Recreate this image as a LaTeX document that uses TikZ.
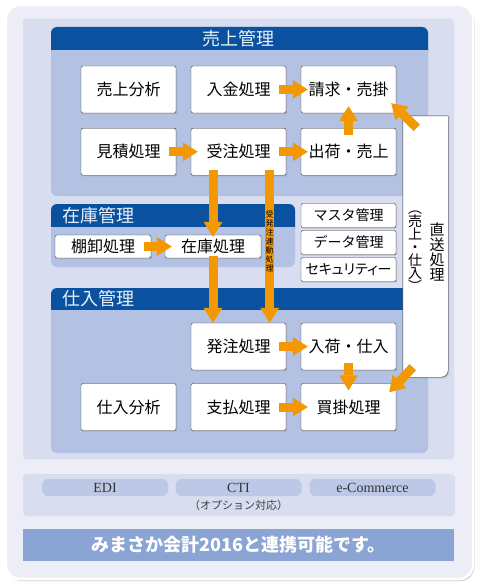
\documentclass[tikz,border=0pt]{standalone}
\usepackage{fontspec}
\setmainfont{Noto Sans CJK JP}
\newfontfamily\latinserif{Liberation Serif}
\usetikzlibrary{arrows.meta,shadows}

\definecolor{hdrblue}{HTML}{0A52A0}
\definecolor{panelblue}{HTML}{B3C1E2}
\definecolor{areablue}{HTML}{D8DDEF}
\definecolor{framebg}{HTML}{ECEDF7}
\definecolor{pillblue}{HTML}{BDC8E7}
\definecolor{bannerblue}{HTML}{8AA5D4}
\definecolor{flowor}{HTML}{F39800}
\definecolor{boxline}{HTML}{3A3A3A}

\tikzset{
  task/.style={draw=boxline, fill=white, rounded corners=2pt, minimum width=95pt,
    minimum height=47pt, inner sep=0pt, font=\fontsize{16}{16}\selectfont,
    drop shadow={shadow xshift=1.2pt, shadow yshift=-1.2pt, opacity=0.3}},
  smalltask/.style={task, minimum height=23pt},
  infotask/.style={task, minimum height=24pt, font=\fontsize{14}{14}\selectfont},
  flow/.style={draw=flowor, line width=9pt,
    -{Triangle[length=15pt, width=19pt, line width=0pt]},
    shorten <=-7pt, shorten >=-7pt},
  hdr/.style={text=white!92!hdrblue, font=\fontsize{18}{18}\selectfont, inner sep=0pt},
  pill/.style={fill=pillblue, rounded corners=6pt, minimum width=126pt, minimum height=17pt,
    inner sep=0pt, font=\latinserif\fontsize{14}{14}\selectfont, text=black!80},
}

\begin{document}
\begin{tikzpicture}[x=1pt, y=-1pt]
  \useasboundingbox[fill=white] (0,0) rectangle (481,586);
  % frame and areas
  \draw[draw=white, line width=2.5pt, fill=framebg, rounded corners=14pt,
    drop shadow={shadow xshift=1.5pt, shadow yshift=-2pt, opacity=0.35}] (6,5) rectangle (473,579);
  \fill[areablue, rounded corners=3pt] (23,19) rectangle (454,459);
  \fill[areablue, rounded corners=4pt] (23,474) rectangle (455,516);

  % sales panel
  \fill[panelblue, rounded corners=6pt] (51,27) rectangle (428,196);
  \fill[hdrblue, rounded corners=6pt] (51,27) rectangle (428,58);
  \fill[panelblue] (51,50) rectangle (428,62);
  \node[hdr] (hdr-sales) at (238.5,38.5) {売上管理};
  % stock panel
  \fill[panelblue, rounded corners=6pt] (51,204) rectangle (295,267);
  \fill[hdrblue, rounded corners=6pt] (51,204) rectangle (295,235);
  \fill[panelblue] (51,227) rectangle (295,239);
  \node[hdr, anchor=west] (hdr-stock) at (62,215.5) {在庫管理};
  % purchase panel
  \fill[panelblue, rounded corners=6pt] (51,288) rectangle (428,453);
  \fill[hdrblue, rounded corners=6pt] (51,288) rectangle (428,318);
  \fill[panelblue] (51,310) rectangle (428,322);
  \node[hdr, anchor=west] (hdr-buy) at (62,299) {仕入管理};

  % direct shipping box
  \node[minimum width=45pt, minimum height=261pt, inner sep=0pt] (chokuso) at (425.5,246.5) {};
  \draw[draw=boxline, fill=white, drop shadow={shadow xshift=1.2pt, shadow yshift=-1.2pt, opacity=0.3}]
    (chokuso.north west) -- (chokuso.north east) [rounded corners=7pt] -- (chokuso.south east)
    -- (chokuso.south west) [sharp corners] -- cycle;
  \node[font=\fontsize{15}{15}\selectfont, align=center, inner sep=0pt] (chokuso-a)
    at ([shift={(11.5,5.5)}]chokuso.center) {直\\送\\処\\理};
  \node[font=\fontsize{14}{13}\selectfont, align=center, inner sep=0pt] (chokuso-b)
    at ([shift={(-10.5,4.5)}]chokuso.center) {︵\\売\\上\\・\\仕\\入\\︶};

  % sales
  \node[task] (uriage-bunseki) at (128.5,89.5) {売上分析};
  \node[task] (nyukin) at (238.5,89.5) {入金処理};
  \node[task] (seikyu) at (348.5,89.5) {請求・売掛};
  \node[task] (mitsumori) at (128.5,151.75) {見積処理};
  \node[task] (juchu) at (238.5,151.75) {受注処理};
  \node[task] (shukka) at (348.5,151.75) {出荷・売上};
  % stock
  \node[smalltask, minimum width=96pt] (tanaoroshi) at (103,246.5) {棚卸処理};
  \node[smalltask, minimum width=96pt] (zaiko) at (213,246.5) {在庫処理};
  % master
  \node[infotask] (master) at (348.5,215.5) {マスタ管理};
  \node[infotask] (data) at (348.5,242.5) {データ管理};
  \node[infotask, font=\fontsize{14}{14}\selectfont\addfontfeature{RawFeature=+palt}] (security) at (348.5,269.5) {セキュリティー};
  % purchase
  \node[task] (hatchu) at (238.5,346.5) {発注処理};
  \node[task] (nyuka) at (348.5,346.5) {入荷・仕入};
  \node[task] (shiire-bunseki) at (128.5,407) {仕入分析};
  \node[task] (shiharai) at (238.5,407) {支払処理};
  \node[task] (kaikake) at (348.5,407) {買掛処理};

  % flows
  \draw[flow] (nyukin) -- (seikyu);
  \draw[flow] (mitsumori) -- (juchu);
  \draw[flow] (juchu) -- (shukka);
  \draw[flow] (shukka) -- (seikyu);
  \draw[flow, shorten <=0pt, shorten >=0pt] ([shift={(14,12)}]chokuso.north west) -- ([shift={(-5,-10)}]seikyu.south east);
  \draw[flow, shorten <=-5pt, shorten >=-2pt] (juchu.south -| zaiko.north) -- (zaiko.north);
  \coordinate (linkfoot) at ([xshift=-16.5pt]juchu.south east);
  \draw[flow, shorten <=-5pt, shorten >=0pt] (linkfoot) -- (linkfoot |- hatchu.north)
    node[pos=0.45, font=\fontsize{8}{9}\selectfont, align=center, inner sep=0pt] (linklabel)
    {受\\発\\注\\連\\動\\処\\理};
  \draw[flow] (tanaoroshi) -- (zaiko);
  \draw[flow, shorten <=-2pt, shorten >=0pt] (zaiko.south) -- (zaiko.south |- hatchu.north);
  \draw[flow] (hatchu) -- (nyuka);
  \draw[flow] (nyuka) -- (kaikake);
  \draw[flow] (shiharai) -- (kaikake);
  \draw[flow, shorten <=0pt, shorten >=0pt] ([shift={(10,-10)}]chokuso.south west) -- ([shift={(-7,9)}]kaikake.north east);

  % options
  \node[pill] (edi) at (105,487.5) {EDI};
  \node[pill] (cti) at (238.5,487.5) {CTI};
  \node[pill] (ecom) at (372.5,487.5) {e-Commerce};
  \node[font=\fontsize{11}{11}\selectfont, text=black!75, inner sep=0pt] (option) at (238.5,505) {（オプション対応）};

  % banner
  \node[fill=bannerblue, minimum width=431pt, minimum height=32pt, inner sep=0pt,
    text=white, font=\bfseries\fontsize{18}{18}\selectfont] (banner) at (238.5,545)
    {みまさか会計2016と連携可能です。};
\end{tikzpicture}
\end{document}
